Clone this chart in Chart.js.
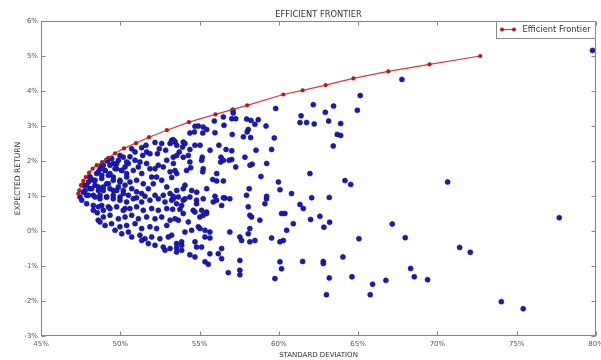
<!DOCTYPE html>
<html><head><meta charset="utf-8">
<script src="https://cdn.jsdelivr.net/npm/chart.js@4.4.0/dist/chart.umd.min.js"></script>
<style>html,body{margin:0;padding:0;background:#fff;}#wrap{width:601px;height:360px;}</style>
</head><body><div id="wrap"><canvas id="c" width="601" height="360"></canvas></div>
<script>
// ---- data (percent units) ----
const xTickValues = [45, 50, 55, 60, 65, 70, 75, 80];
const yTickValues = [-3, -2, -1, 0, 1, 2, 3, 4, 5, 6];
const chartTitle = 'EFFICIENT FRONTIER';
const xTitle = 'STANDARD DEVIATION';
const yTitle = 'EXPECTED RETURN';
const frontierLabel = 'Efficient Frontier';

const frontierSD  = [47.35,47.41,47.52,47.67,47.82,48.03,48.26,48.51,48.85,49.25,49.67,50.23,50.99,51.81,52.94,54.33,56.0,58.0,60.28,61.5,62.95,64.7,66.9,69.5,72.7];
const frontierRet = [1.07,1.16,1.31,1.43,1.54,1.67,1.78,1.88,1.97,2.09,2.22,2.36,2.51,2.68,2.88,3.11,3.33,3.59,3.9,4.02,4.17,4.36,4.56,4.76,5.0];

// random portfolios: [standard deviation %, expected return %]
const portfoliosUpperLeft = [
[52.19,2.53],[52.61,2.5],[52.46,2.35],[52.34,2.21],[52.86,2.31],[53.14,2.5],[53.45,2.56],[53.24,2.59],[53.56,2.45],
[51.62,2.45],[51.35,2.38],[51.66,2.26],[51.41,2.16],[51.87,2.21],[51.24,1.97],[51.66,1.93],[51.87,1.78],[52.19,1.78],
[50.72,2.35],[50.93,2.26],[50.61,2.12],[50.93,2.02],[50.51,1.93],[50.3,1.83],[50.82,1.73],[51.14,1.83],[51.35,1.64],
[49.98,2.16],[49.88,2.02],[49.56,1.93],[49.77,1.78],[50.09,1.73],[49.35,1.88],[49.2,2.0],[48.93,1.88],[49.04,1.73],
[48.72,1.78],[48.51,1.64],[48.83,1.59],[49.25,1.59],[49.56,1.54],[49.98,1.45],[50.4,1.54],[50.61,1.4],[51.03,1.45],[51.45,1.35],
[48.09,1.54],[48.3,1.45],[47.99,1.4],[48.41,1.31],[48.09,1.21],[48.62,1.16],[48.93,1.26],[49.25,1.35],[49.56,1.16],[49.88,1.26],
[50.19,1.16],[50.72,1.21],[51.03,1.12],[51.35,1.07],[51.77,1.21],[52.08,1.35],[52.29,1.54],[52.61,1.45],[52.93,1.26],[53.14,1.69],
[53.35,1.93],[52.93,2.02],[52.71,1.83],[52.4,1.88],[51.98,1.54],
[47.67,1.31],[47.78,1.16],[47.88,1.02],[48.3,1.02],[48.72,1.02],[49.14,0.97],[49.56,1.02],[49.98,0.97],[50.51,1.02],[51.03,0.95],
[51.56,0.99],[52.19,1.02],[52.71,1.02],[53.14,1.07],[53.56,1.16]
];
const portfoliosVertex = [
[48.83,1.88],[49.14,2.02],[49.46,2.07],[49.77,1.92],[50.19,2.11],[50.4,1.97],[48.62,1.69],[49.04,1.73],[49.35,1.64],[49.67,1.78],
[50.09,1.73],[50.4,1.64],[48.09,1.54],[48.41,1.45],[48.83,1.5],[49.14,1.35],[49.56,1.45],[49.98,1.4],[50.3,1.31],[47.88,1.31],
[48.2,1.21],[48.62,1.26],[48.93,1.16],[49.35,1.21],[49.77,1.16],[50.19,1.07],[47.67,1.11],[47.99,1.02],[48.41,0.97],[48.72,0.92],
[49.14,0.97],[49.56,0.92],[49.98,0.88],[50.4,0.83],[47.57,0.88],[47.88,0.78],[48.3,0.73],[48.83,0.73],[49.25,0.69],[49.77,0.69],
[50.3,0.64],[47.46,0.97]
];
const portfoliosLowerLeft = [
[50.82,0.92],[51.35,0.83],[51.87,0.88],[52.4,0.92],[52.82,0.83],[53.24,0.88],
[48.3,0.59],[48.62,0.69],[48.93,0.59],[49.35,0.64],[50.19,0.59],[50.61,0.64],[51.03,0.69],[51.45,0.59],[51.98,0.64],[52.4,0.59],[52.93,0.64],
[48.55,0.52],[48.93,0.4],[49.35,0.45],[49.88,0.35],[50.3,0.4],[50.72,0.45],[51.14,0.35],[51.66,0.4],[52.19,0.35],[52.61,0.4],[53.14,0.31],
[48.61,0.31],[48.72,0.26],[49.04,0.16],[49.45,0.21],[49.98,0.12],[50.4,0.16],[50.93,0.21],[51.35,0.07],[51.87,0.12],[52.29,0.07],[52.93,0.16],
[49.67,0.02],[50.09,-0.08],[50.51,-0.03],[50.72,-0.17],[51.24,-0.12],[51.56,-0.22],[51.98,-0.17],[52.5,-0.22],[53.03,-0.17],
[51.35,-0.27],[51.77,-0.36],[52.19,-0.41],[52.71,-0.46],[53.14,-0.5],[52.82,-0.55]
];
const portfoliosLowerMid = [
[53.34,0.92],[53.66,0.97],[53.97,0.88],[53.55,0.78],[53.87,0.73],[54.08,0.92],[54.39,0.97],[54.81,0.88],[55.23,0.92],[54.81,0.78],
[55.86,0.83],[56.07,0.88],[56.6,0.94],[56.91,0.92],[56.39,0.73],[57.96,1.02],
[53.3,0.62],[53.76,0.62],[54.6,0.59],[54.71,0.54],[55.13,0.59],[55.44,0.54],[58.07,0.69],[59.22,0.92],[59.12,0.78],
[53.45,0.35],[53.66,0.31],[53.97,0.5],[54.29,0.26],[55.02,0.4],[55.23,0.45],[55.44,0.5],[58.17,0.45],[58.28,0.4],[58.8,0.31],[60.17,0.5],[60.38,0.5],
[53.24,-0.12],[54.08,-0.03],[54.5,0.02],[54.92,0.12],[55.02,0.07],[55.34,0.02],[55.65,-0.03],[55.34,-0.17],[55.65,-0.2],[56.91,-0.03],
[57.54,-0.17],[57.65,-0.27],[58.17,0.07],[58.07,-0.08],[58.49,-0.27],[58.17,-0.31],[59.54,-0.2],[60.07,-0.31],[60.28,-0.27],[60.49,0.02],
[53.55,-0.36],[53.55,-0.48],[53.55,-0.6],[53.87,-0.31],[53.87,-0.41],[53.87,-0.55],[54.71,-0.31],[54.81,-0.46],[55.13,-0.46],[55.65,-0.65],
[56.18,-0.65],[56.39,-0.79],[56.39,-0.5],[57.54,-0.84],[57.54,-1.12],[57.54,-1.25],[56.81,-1.19],[55.34,-0.88],[55.55,-0.95],[54.39,-0.68],
[54.71,-0.74],[60.07,-0.88],[60.17,-1.08],[59.75,-1.36],[60.8,1.07],[60.91,0.21]
];
const portfoliosUpperMid = [
[59.8,3.5],[57.1,3.45],[57.12,3.37],[56.5,3.26],[57.28,3.21],[57.03,3.21],[57.97,3.2],[58.24,3.16],[58.7,3.18],[55.93,3.14],
[56.54,3.02],[58.49,3.05],[59.19,3.0],[58.07,2.9],[58.0,2.83],[54.71,2.99],[54.92,3.0],[55.23,2.97],[55.45,2.9],[54.39,2.8],
[54.67,2.83],[55.2,2.8],[55.97,2.81],[57.06,2.76],[57.76,2.69],[58.22,2.67],[59.71,2.66],[53.34,2.61],[53.24,2.54],[53.97,2.54],
[54.08,2.5],[53.93,2.4],[54.71,2.45],[55.03,2.45],[56.22,2.45],[54.39,2.33],[55.66,2.31],[56.67,2.33],[57.03,2.29],[58.56,2.31],
[59.54,2.33],[53.72,2.26],[53.56,2.16],[53.34,2.11],[54.29,2.16],[53.97,2.11],[55.17,2.11],[55.13,2.02],[56.35,2.11],[56.5,2.02],
[56.33,1.97],[57.03,2.04],[56.86,2.02],[57.86,2.11],[58.32,1.91],[58.18,1.88],[57.28,1.83],[54.39,1.97],[54.44,1.81],[54.18,1.73],
[55.23,1.78],[55.2,1.69],[53.45,1.73],[53.56,1.64],[53.24,1.53],[56.08,1.64],[55.83,1.47],[56.08,1.43],[56.5,1.43],[58.87,1.56],
[59.97,1.4],[60.07,1.18],[54.08,1.31],[53.97,1.21],[54.5,1.16],[54.82,1.11],[55.45,1.21],[55.97,0.99],[56.5,0.95],[58.13,1.21],
[59.23,0.99],[53.34,0.99],[59.23,1.93]
];
const portfoliosRight = [
[79.78,5.16],[67.76,4.33],[65.13,3.87],[64.95,3.45],[62.17,3.61],[63.45,3.57],[62.93,3.39],[61.4,3.29],[61.33,3.1],[61.75,3.1],
[62.23,3.06],[63.14,3.14],[63.9,3.07],[63.68,2.76],[63.9,2.73],[63.43,2.43],[61.96,1.64],[64.17,1.44],[64.53,1.33],[70.64,1.4],
[61.33,0.76],[61.54,0.64],[62.07,0.95],[63.18,0.96],[62.0,0.33],[62.59,0.42],[62.84,0.11],[63.2,0.25],[65.05,-0.22],[67.15,0.2],
[67.97,-0.19],[61.5,-0.87],[62.8,-0.87],[62.8,-0.93],[64.04,-0.74],[63.18,-1.34],[64.61,-1.31],[63.0,-1.82],[65.91,-1.52],[65.76,-1.82],
[66.75,-1.41],[68.31,-1.07],[68.54,-1.31],[69.38,-1.39],[71.4,-0.47],[72.07,-0.61],[77.68,0.38],[74.03,-2.02],[75.41,-2.22]
];

const portfolios = [].concat(portfoliosUpperLeft, portfoliosVertex, portfoliosLowerLeft, portfoliosLowerMid, portfoliosUpperMid, portfoliosRight);

// ---- drawing ----
const FONT = '"DejaVu Sans", sans-serif';
const frontierLine = 'rgb(214,58,58)';
const frontierDot = 'rgb(190,20,20)';
const dotFill = 'rgb(26,26,188)';
const dotEdge = 'rgb(12,12,128)';

const framePlugin = {
  id: 'frame',
  afterDatasetsDraw(chart) {
    const {ctx, chartArea: a, scales: {x, y}} = chart;
    ctx.save();
    ctx.strokeStyle = '#858585';
    ctx.lineWidth = 1;
    const L = Math.round(a.left) + 0.5, R = Math.round(a.right) - 0.5;
    const T = Math.round(a.top) + 0.5, B = Math.round(a.bottom) - 0.5;
    ctx.strokeRect(L, T, R - L, B - T);
    ctx.beginPath();
    xTickValues.forEach(v => {
      const px = Math.round(x.getPixelForValue(v)) + 0.5;
      ctx.moveTo(px, B); ctx.lineTo(px, B - 4);
      ctx.moveTo(px, T); ctx.lineTo(px, T + 4);
    });
    yTickValues.forEach(v => {
      const py = Math.round(y.getPixelForValue(v)) + 0.5;
      ctx.moveTo(L, py); ctx.lineTo(L + 4, py);
      ctx.moveTo(R, py); ctx.lineTo(R - 4, py);
    });
    ctx.stroke();
    ctx.restore();
  },
  afterDraw(chart) {
    const {ctx, chartArea: a} = chart;
    ctx.save();
    const cx = (a.left + a.right) / 2;
    ctx.fillStyle = '#333';
    ctx.textAlign = 'center';
    ctx.textBaseline = 'middle';
    ctx.font = '8.3px ' + FONT;
    ctx.fillText(chartTitle, cx, 14.5);
    ctx.font = '7px ' + FONT;
    ctx.fillText(xTitle, cx, 355);
    ctx.save();
    ctx.translate(18, (a.top + a.bottom) / 2);
    ctx.rotate(-Math.PI / 2);
    ctx.font = '7.6px ' + FONT;
    ctx.fillText(yTitle, 0, 0);
    ctx.restore();
    // legend box (upper right, inside plot)
    const bx = 496.5, by = Math.round(a.top) + 0.5, bw = Math.round(a.right) - 0.5 - bx, bh = 17;
    ctx.fillStyle = '#fff';
    ctx.fillRect(bx, by, bw, bh);
    ctx.strokeStyle = '#8a8a8a';
    ctx.lineWidth = 1;
    ctx.strokeRect(bx, by, bw, bh);
    const ly = by + 8;
    ctx.strokeStyle = frontierLine;
    ctx.lineWidth = 1.2;
    ctx.beginPath(); ctx.moveTo(502, ly); ctx.lineTo(514, ly); ctx.stroke();
    ctx.fillStyle = frontierDot;
    [502, 514].forEach(px => { ctx.beginPath(); ctx.arc(px, ly, 2, 0, Math.PI * 2); ctx.fill(); });
    ctx.fillStyle = '#333';
    ctx.textAlign = 'left';
    ctx.font = '8.3px ' + FONT;
    ctx.fillText(frontierLabel, 522.5, ly + 0.5);
    ctx.restore();
  }
};

new Chart(document.getElementById('c'), {
  type: 'scatter',
  data: {
    datasets: [
      {
        label: frontierLabel,
        type: 'line',
        data: frontierSD.map((v, i) => ({x: v, y: frontierRet[i]})),
        borderColor: frontierLine,
        borderWidth: 1.2,
        backgroundColor: frontierDot,
        pointBackgroundColor: frontierDot,
        pointBorderColor: frontierDot,
        pointBorderWidth: 0,
        pointRadius: 2.1,
        fill: false,
        tension: 0,
        order: 0
      },
      {
        label: 'Portfolios',
        data: portfolios.map(p => ({x: p[0], y: p[1]})),
        backgroundColor: dotFill,
        borderColor: dotEdge,
        borderWidth: 0.6,
        pointRadius: 2.5,
        order: 1
      }
    ]
  },
  options: {
    responsive: false,
    animation: false,
    devicePixelRatio: 1,
    layout: {padding: {top: 21, right: 5, bottom: 0, left: 0}},
    plugins: {legend: {display: false}, title: {display: false}, tooltip: {enabled: false}},
    scales: {
      x: {
        type: 'linear', min: 45, max: 80,
        grid: {display: false, drawTicks: false},
        border: {display: false},
        ticks: {autoSkip: false, maxRotation: 0, padding: 4, color: '#555', font: {family: FONT, size: 7}, callback: v => v + '%'},
        afterBuildTicks: s => { s.ticks = xTickValues.map(v => ({value: v})); },
        afterFit: s => { s.height = 24; s.paddingLeft = 0; s.paddingRight = 0; }
      },
      y: {
        type: 'linear', min: -3, max: 6,
        grid: {display: false, drawTicks: false},
        border: {display: false},
        ticks: {autoSkip: false, padding: 3, color: '#555', font: {family: FONT, size: 7}, callback: v => v + '%'},
        afterBuildTicks: s => { s.ticks = yTickValues.map(v => ({value: v})); },
        afterFit: s => { s.width = 41; s.paddingTop = 0; s.paddingBottom = 0; }
      }
    }
  },
  plugins: [framePlugin]
});
</script>
</body></html>
